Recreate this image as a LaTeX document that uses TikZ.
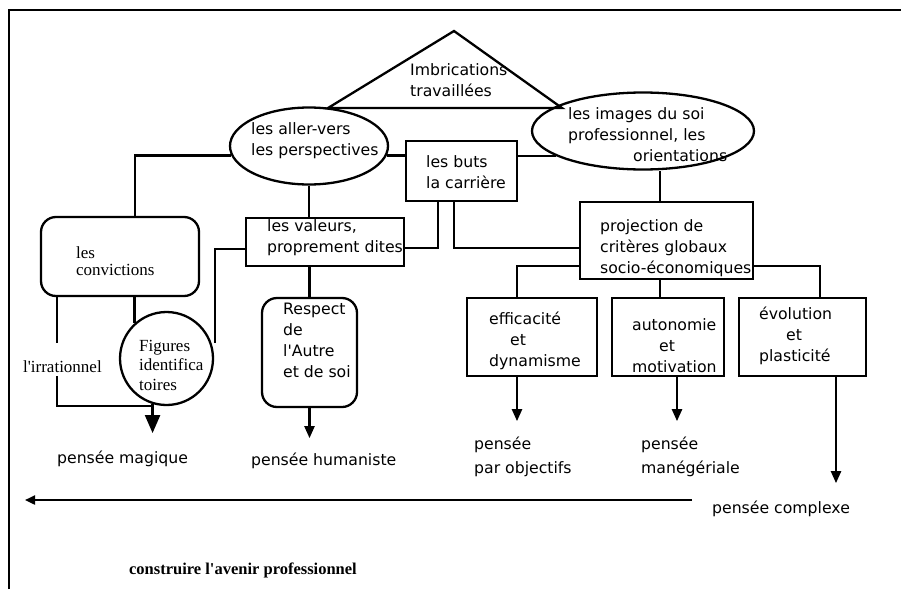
\documentclass[tikz,border=0pt]{standalone}
\usepackage{fontspec}
\setmainfont{Liberation Serif}
\setsansfont{DejaVu Sans}
\usetikzlibrary{shapes.geometric,arrows.meta,calc}
\begin{document}
\begin{tikzpicture}[x=1pt,y=-1pt,line width=2.3pt,
  sans/.style={font=\sffamily\fontsize{15.7}{21}\selectfont,inner sep=0pt,anchor=north west,align=left},
  serifl/.style={font=\rmfamily\fontsize{17}{#1}\selectfont,inner sep=0pt,anchor=north west,align=left},
  oval/.style={draw,ellipse,inner sep=0pt},
  box/.style={draw,rectangle,inner sep=0pt},
  rbox/.style={draw,rectangle,rounded corners=15pt,inner sep=0pt},
  arr/.style={-{Triangle[width=10pt,length=12pt]}},
  bigarr/.style={-{Triangle[width=15pt,length=18pt]}},
  longarr/.style={-{Triangle[width=9pt,length=10pt]}},
]
\useasboundingbox (0,0) rectangle (901,589);

% frame
\coordinate (fb) at (9,589);
\coordinate (fc) at (9,10);
\coordinate (fr) at (901,10);
\draw[line width=2.6pt] (fb) -- (fc) -- (fr);

% triangle
\coordinate (tA) at (454,31);
\coordinate (tL) at (328,108);
\coordinate (tR) at (562,108);
\draw (tA) -- (tL) -- (tR) -- cycle;

% shapes
\node[oval,minimum width=158pt,minimum height=77pt] (ell1) at (309,146) {};
\node[oval,minimum width=222pt,minimum height=77pt] (ell2) at (643,131) {};
\node[box,minimum width=111pt,minimum height=60pt] (buts) at (461.5,171) {};
\node[box,minimum width=158pt,minimum height=48pt] (val) at (325,242) {};
\node[box,minimum width=173pt,minimum height=77pt] (proj) at (666.5,240.5) {};
\node[box,minimum width=130pt,minimum height=78pt] (effi) at (532,337) {};
\node[box,minimum width=112pt,minimum height=78pt] (auto) at (668,337) {};
\node[box,minimum width=127pt,minimum height=78pt] (evol) at (802.5,337) {};
\node[rbox,minimum width=158pt,minimum height=79pt] (conv) at (120,256.5) {};
\node[draw,circle,minimum size=93pt,inner sep=0pt] (fig) at (166.5,358.5) {};
\node[rbox,minimum width=95pt,minimum height=109pt] (resp) at (309.5,352.5) {};

% texts
\node[sans] (imb) at (409,59.3) {\strut Imbrications\\travaillées};
\node[sans] (t1) at (250,118.3) {\strut les aller-vers\\les perspectives};
\node[sans] (t2) at (567,103.3) {\strut les images du soi\\professionnel, les\\\hspace*{65pt}orientations};
\node[sans] (t3) at (425,151.3) {\strut les buts\\la carrière};
\node[sans] (t4) at (266,215.3) {\strut les valeurs,\\proprement dites};
\node[sans] (t5) at (599,215.3) {\strut projection de\\critères globaux\\socio-économiques};
\node[sans] (t6) at (488,308.3) {\strut efficacité\\\hspace*{21pt}et\\dynamisme};
\node[sans] (t7) at (631,314.3) {\strut autonomie\\\hspace*{27pt}et\\motivation};
\node[sans] (t8) at (758,303.3) {\strut évolution\\\hspace*{27pt}et\\plasticité};
\node[sans] (t9) at (282,298.3) {\strut Respect\\de\\l\textquotesingle Autre\\et de soi};
\node[sans] (p1) at (473,433.3) {\strut pensée\\[3pt]par objectifs};
\node[sans] (p2) at (640,433.3) {\strut pensée\\[3pt]manégériale};
\node[sans] (p3) at (711,497.3) {\strut pensée complexe};
\node[sans] (p4) at (56,447.3) {\strut pensée magique};
\node[sans] (p5) at (250,449.3) {\strut pensée humaniste};
\node[serifl=17] (t10) at (75,245.1) {\strut les\\convictions};
\node[serifl=19.5] (t11) at (138,336.35) {\strut Figures\\identifica\\toires};
\node[serifl=19] (irr) at (22,357.7) {\strut l\textquotesingle irrationnel};
\node[serifl=19,font=\rmfamily\bfseries\fontsize{16.5}{19}\selectfont] (cap) at (128,559.7) {\strut construire l\textquotesingle avenir professionnel};

% connectors, upper part
\draw (ell1.187.5) -| ([xshift=15pt]conv.north);
\draw (ell1.south) -- (ell1.south |- val.north);
\draw (ell1.-7.5) -- (ell1.-7.5 -| buts.west);
\draw (buts.east |- ell2.196) -- (ell2.196);
\draw ([yshift=-6pt]val.east) -| ([xshift=-23.5pt]buts.south);
\draw ([xshift=-7.5pt]buts.south) |- ([yshift=-7.5pt]proj.west);
\draw ([xshift=-6.5pt]proj.north) -- ([xshift=-6.5pt]proj.north |- ell2.south);

% connectors, right branch
\draw ([yshift=-25.5pt]proj.west) -| ([xshift=-15pt]effi.north);
\draw ([xshift=-6.5pt]proj.south) -- ([xshift=-6.5pt]proj.south |- auto.north);
\draw ([yshift=-25.5pt]proj.east) -| ([xshift=17.5pt]evol.north);
\draw[arr] ([xshift=-15pt]effi.south) -- ++(0,44);
\draw[arr] ([xshift=9pt]auto.south) -- ++(0,44);
\draw[arr] ([xshift=33.5pt]evol.south) -- ++(0,106);

% connectors, left branch
\coordinate (vend) at (215,343);
\draw ([yshift=-7pt]val.west) -| (vend);
\draw (fig.132.6) -- (fig.132.6 |- conv.south);
\coordinate (i1) at (57,343);
\coordinate (i2) at (57,376);
\draw ([xshift=-63pt]conv.south) -- (i1);
\draw (i2) |- (fig.-107 |- fig.south);
\draw[bigarr] (fig.-107) -- ++(0,29);
\draw (resp.north) -- (resp.north |- val.south);
\draw[arr] (resp.south) -- ++(0,30);

% long arrow
\coordinate (l1) at (692,500);
\coordinate (l0) at (25,500);
\draw[longarr] (l1) -- (l0);
\end{tikzpicture}
\end{document}
